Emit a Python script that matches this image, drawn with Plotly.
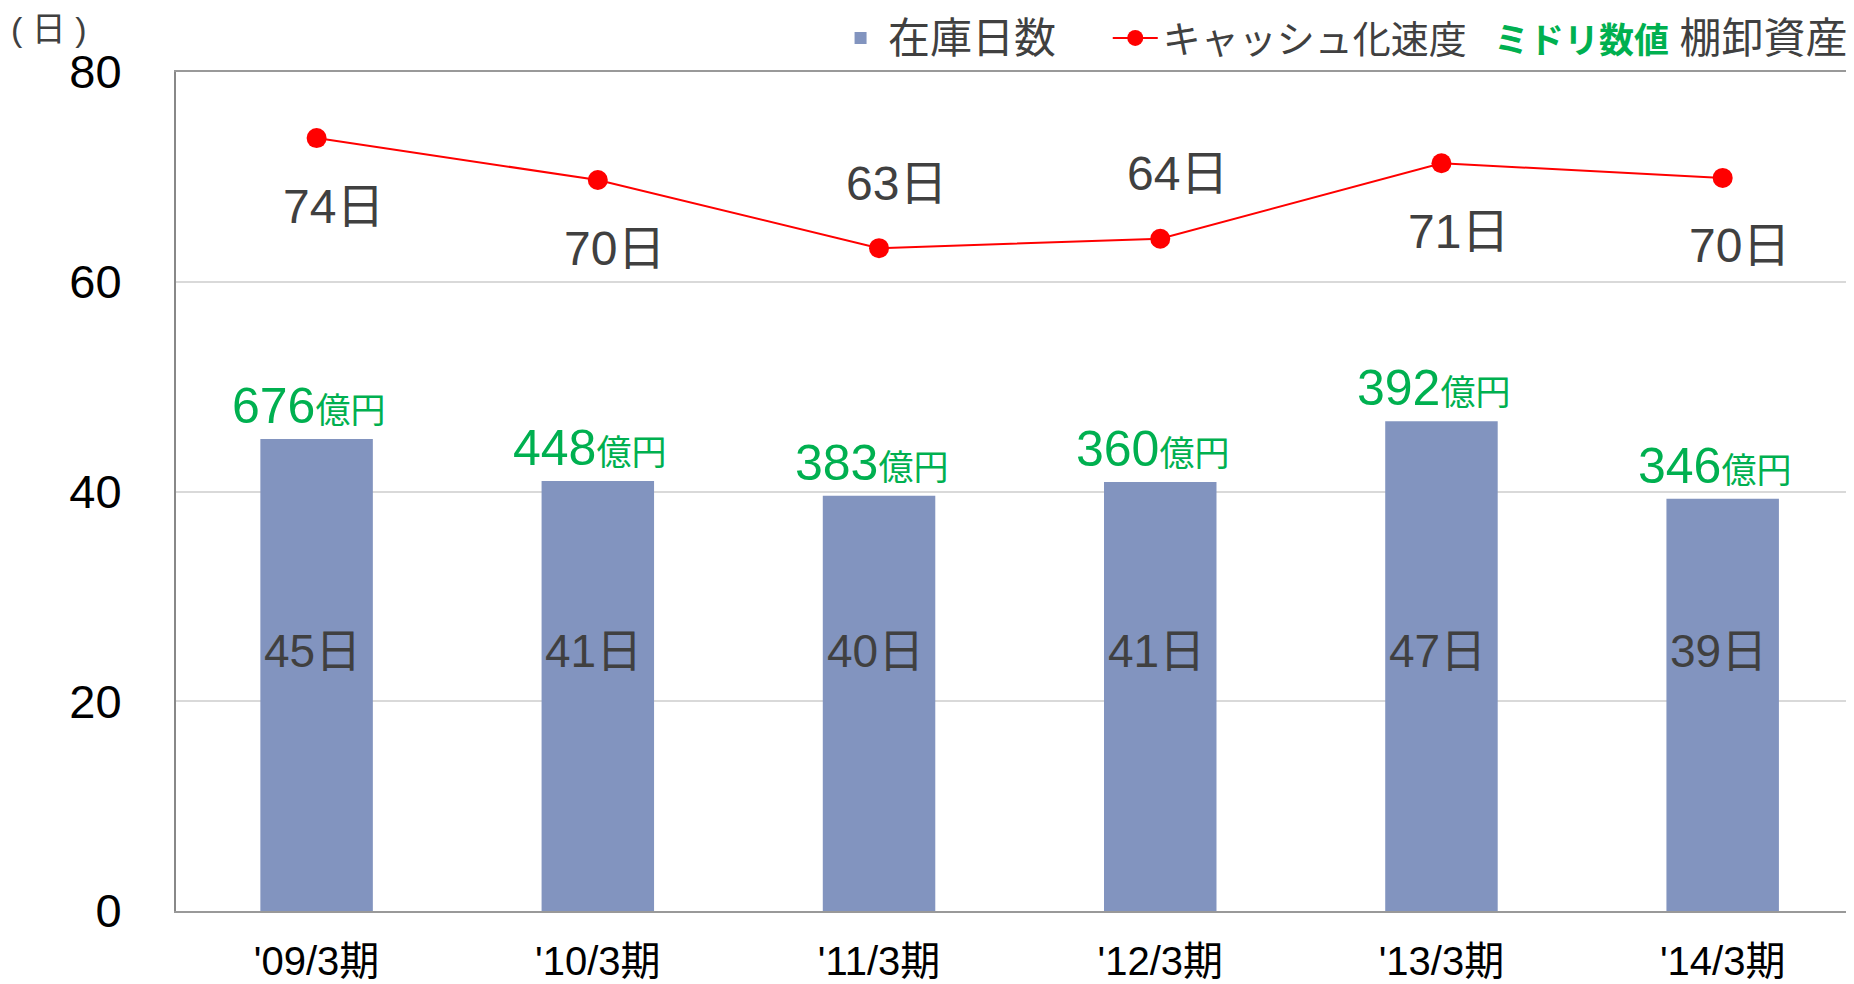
import plotly.graph_objects as go

# データ
periods = ["'09/3期", "'10/3期", "'11/3期", "'12/3期", "'13/3期", "'14/3期"]
inventory_days = [45.0, 41.0, 39.6, 40.9, 46.7, 39.3]
inventory_labels = ["45日", "41日", "40日", "41日", "47日", "39日"]
cash_speed = [73.7, 69.7, 63.2, 64.1, 71.3, 69.9]
cash_labels = ["74日", "70日", "63日", "64日", "71日", "70日"]
inventory_oku = ["676", "448", "383", "360", "392", "346"]

# スタイル
FONT = "Liberation Sans, Arial, Noto Sans CJK JP"
BAR_COLOR = "#8294BF"
LINE_COLOR = "#FF0000"
GREEN = "#00B050"
TEXT_GRAY = "#404040"
label_side = ["below", "below", "above", "above", "below", "below"]


def main():
    fig = go.Figure()
    fig.add_trace(go.Bar(x=periods, y=inventory_days,
                         name="<span style='font-size:42px'>在庫日数&nbsp;&nbsp;&nbsp;&nbsp;</span>",
                         marker=dict(color=BAR_COLOR, line=dict(width=0)),
                         width=0.4))
    fig.add_trace(go.Scatter(x=periods, y=cash_speed, name="キャッシュ化速度",
                             mode="lines+markers",
                             line=dict(color=LINE_COLOR, width=2),
                             marker=dict(color=LINE_COLOR, size=20)))

    # 折れ線のラベル
    for p, v, t, side in zip(periods, cash_speed, cash_labels, label_side):
        fig.add_annotation(x=p, y=v, text=t, showarrow=False,
                           xshift=17, yshift=-68 if side == "below" else 65,
                           font=dict(size=48, color=TEXT_GRAY, family=FONT))

    # 棒の中のラベル
    for p, t in zip(periods, inventory_labels):
        fig.add_annotation(x=p, y=24.8, text=t, showarrow=False, xshift=-4,
                           font=dict(size=46, color=TEXT_GRAY, family=FONT))

    # 棚卸資産（緑）
    for p, v, t in zip(periods, inventory_days, inventory_oku):
        fig.add_annotation(x=p, y=v, text=f"{t}<span style='font-size:35px'>億円</span>",
                           showarrow=False, yanchor="bottom", yshift=3, xshift=-8,
                           font=dict(size=50, color=GREEN, family=FONT))

    fig.add_annotation(xref="paper", yref="paper", x=0.9976, y=1.0405, xanchor="right",
                       yanchor="middle", showarrow=False,
                       text=(f"<span style='color:{GREEN};font-size:35px'><b>ミドリ数値</b></span>"
                             " <span style='font-size:42px'>棚卸資産</span>"),
                       font=dict(size=38, color=TEXT_GRAY, family=FONT))
    fig.add_annotation(xref="paper", yref="paper", x=-0.0757, y=1.051, xanchor="center",
                       yanchor="middle", showarrow=False, text="( 日 )",
                       font=dict(size=34, color=TEXT_GRAY, family=FONT))

    # ページ余白(8px)の分だけずらす
    fig.update_layout(
        width=1846, height=976,
        margin=dict(l=168, r=0, t=64, b=73),
        plot_bgcolor="white", paper_bgcolor="white",
        font=dict(family=FONT, color="black"),
        showlegend=True,
        legend=dict(orientation="h", xref="container", yref="container",
                    x=0.7931, xanchor="right", y=0.969, yanchor="middle",
                    itemwidth=45,
                    font=dict(size=38, color=TEXT_GRAY, family=FONT),
                    bgcolor="rgba(0,0,0,0)"),
        xaxis=dict(range=[-0.5, 5.467], showline=True, linecolor="#999999", linewidth=2,
                   mirror=True, showgrid=False, ticks="", ticklabelstandoff=14,
                   automargin=False,
                   tickfont=dict(size=40, color="black", family=FONT)),
        yaxis=dict(range=[0, 80], tickvals=[0, 20, 40, 60, 80], showline=True,
                   linecolor="#888888", linewidth=2, showgrid=True, gridcolor="#D9D9D9",
                   gridwidth=2, zeroline=False, ticks="", ticklabelstandoff=43,
                   automargin=False,
                   tickfont=dict(size=47, color="black", family=FONT)),
    )
    fig.write_html("out.html")


if __name__ == '__main__':
    main()
